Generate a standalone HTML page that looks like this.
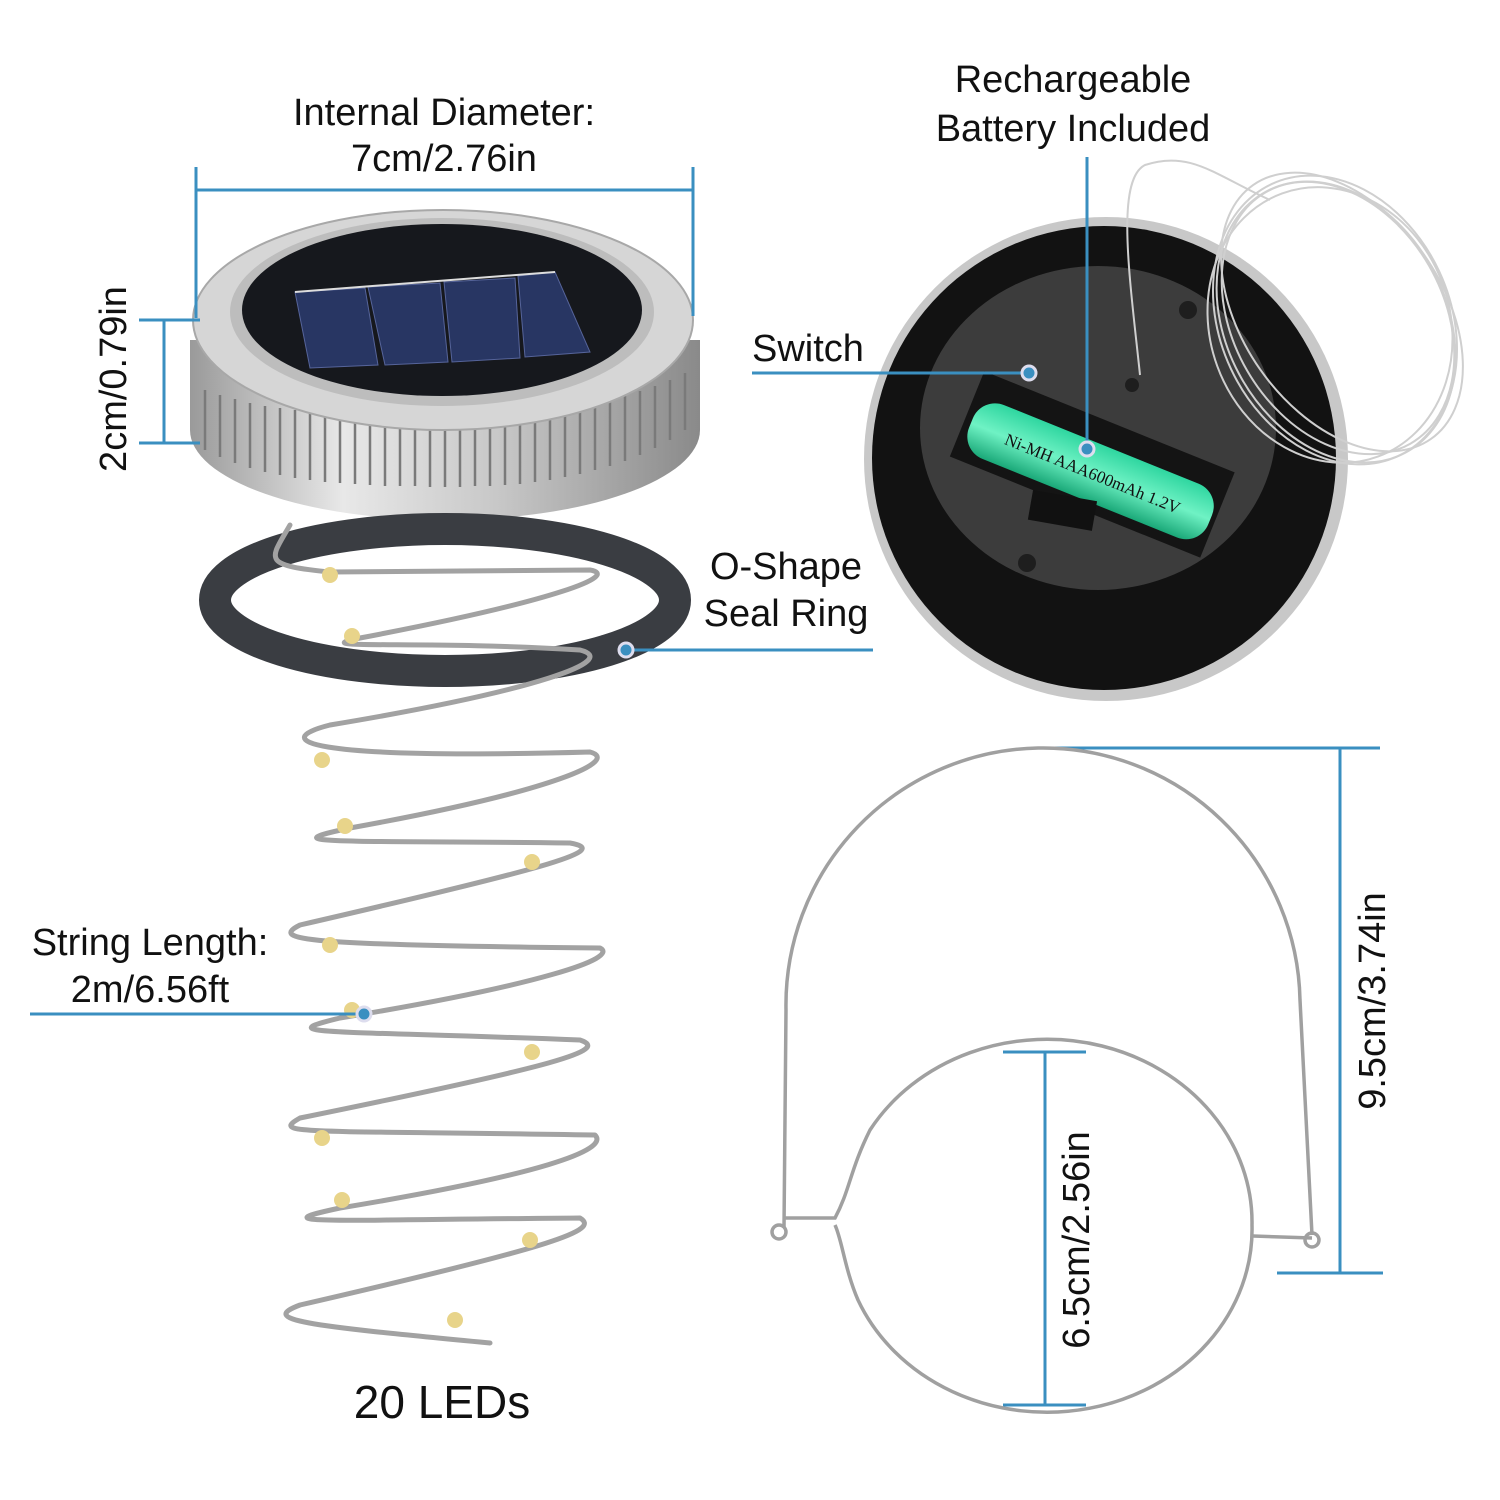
<!DOCTYPE html>
<html><head><meta charset="utf-8"><style>
html,body{margin:0;padding:0;background:#fff}
svg{display:block}
text{font-family:"Liberation Sans",sans-serif;fill:#111}
</style></head><body>
<svg width="1500" height="1500" viewBox="0 0 1500 1500" xmlns="http://www.w3.org/2000/svg">
<defs>
<linearGradient id="metal" x1="0" x2="1" y1="0" y2="0">
<stop offset="0" stop-color="#9a9a9a"/><stop offset="0.3" stop-color="#e8e8e8"/><stop offset="0.6" stop-color="#c8c8c8"/><stop offset="1" stop-color="#8a8a8a"/>
</linearGradient>
<linearGradient id="bat" x1="0" x2="0" y1="0" y2="1">
<stop offset="0" stop-color="#2fd6a0"/><stop offset="0.5" stop-color="#6ff2c4"/><stop offset="1" stop-color="#1aa878"/>
</linearGradient>
</defs>
<!-- Texts -->
<g font-size="38">
<text x="444" y="125" text-anchor="middle">Internal Diameter:</text>
<text x="444" y="171" text-anchor="middle">7cm/2.76in</text>
<text x="1073" y="92" text-anchor="middle">Rechargeable</text>
<text x="1073" y="141" text-anchor="middle">Battery Included</text>
<text x="752" y="361">Switch</text>
<text x="786" y="579" text-anchor="middle">O-Shape</text>
<text x="786" y="626" text-anchor="middle">Seal Ring</text>
<text x="150" y="955" text-anchor="middle">String Length:</text>
<text x="150" y="1002" text-anchor="middle">2m/6.56ft</text>
<text transform="translate(126,379) rotate(-90)" text-anchor="middle">2cm/0.79in</text>
<text transform="translate(1385,1001) rotate(-90)" text-anchor="middle">9.5cm/3.74in</text>
<text transform="translate(1089,1240) rotate(-90)" text-anchor="middle">6.5cm/2.56in</text>
</g>
<text x="442" y="1418" font-size="46" text-anchor="middle">20 LEDs</text>

<!-- left lid -->
<path d="M190 340 L190 430 A255 90 0 0 0 700 430 L700 340 Z" fill="url(#metal)"/>
<g stroke="#7a7a7a" stroke-width="2.5">
<path d="M205 390 L205 450 M220 395 L220 457 M235 399 L235 463 M250 403 L250 468 M265 406 L265 472 M280 408 L280 475 M295 410 L295 478 M310 412 L310 480 M325 413 L325 482 M340 414 L340 483 M355 415 L355 484 M370 416 L370 485 M385 416 L385 486 M400 417 L400 486 M415 417 L415 486 M430 417 L430 487 M445 417 L445 487 M460 417 L460 487 M475 417 L475 486 M490 416 L490 486 M505 415 L505 485 M520 414 L520 484 M535 413 L535 482 M550 411 L550 480 M565 409 L565 477 M580 406 L580 474 M595 403 L595 470 M610 400 L610 466 M625 396 L625 461 M640 391 L640 455 M655 386 L655 448 M670 380 L670 440 M685 373 L685 430"/>
</g>
<ellipse cx="443" cy="320" rx="250" ry="110" fill="#d6d6d6" stroke="#a8a8a8" stroke-width="2"/>
<ellipse cx="442" cy="312" rx="212" ry="94" fill="#bdbdbd"/>
<ellipse cx="442" cy="310" rx="200" ry="86" fill="#16181d"/>
<g fill="#283663" stroke="#56649a" stroke-width="1">
<polygon points="295,292 365,288 378,365 310,368"/>
<polygon points="368,287 440,283 448,362 385,365"/>
<polygon points="444,282 515,278 520,358 452,362"/>
<polygon points="518,276 555,272 590,352 525,357"/>
</g>
<line x1="295" y1="292" x2="555" y2="272" stroke="#ddd" stroke-width="2"/>

<!-- seal ring -->
<ellipse cx="445" cy="600" rx="230" ry="71" fill="none" stroke="#3a3d42" stroke-width="32"/>

<!-- spiral wire -->
<g fill="none" stroke="#a2a2a2" stroke-width="5" stroke-linejoin="round" stroke-linecap="round">
<path d="M290 525 C270 560 260 565 330 572 L590 570 C620 575 560 600 360 638 C300 650 420 640 580 650 C620 660 540 690 330 725 C270 740 300 760 590 752 C620 760 560 790 350 828 C270 845 330 840 570 843 C610 850 560 865 300 925 C270 940 300 945 600 948 C620 958 540 985 340 1018 C270 1035 320 1030 580 1040 C610 1050 560 1065 300 1118 C270 1135 300 1130 595 1135 C610 1150 540 1175 340 1208 C260 1225 320 1220 580 1218 C600 1230 560 1245 300 1305 C260 1320 300 1325 490 1343"/>
</g>
<g fill="#e8d48a">
<circle cx="330" cy="575" r="8"/><circle cx="352" cy="636" r="8"/><circle cx="322" cy="760" r="8"/><circle cx="345" cy="826" r="8"/><circle cx="532" cy="862" r="8"/><circle cx="330" cy="945" r="8"/><circle cx="352" cy="1010" r="8"/><circle cx="532" cy="1052" r="8"/><circle cx="322" cy="1138" r="8"/><circle cx="342" cy="1200" r="8"/><circle cx="530" cy="1240" r="8"/><circle cx="455" cy="1320" r="8"/>
</g>

<!-- right lid -->
<circle cx="1106" cy="459" r="242" fill="#c8c8c8"/>
<circle cx="1104" cy="458" r="232" fill="#121212"/>
<ellipse cx="1098" cy="428" rx="178" ry="162" fill="#3c3c3c"/>
<g transform="rotate(22 1090 470)">
<rect x="955" y="418" width="270" height="92" fill="#141414"/>
<rect x="962" y="442" width="258" height="58" rx="24" fill="url(#bat)"/>
<text x="1000" y="478" font-size="17" style="font-family:'Liberation Serif',serif">Ni-MH AAA600mAh 1.2V</text>
</g>
<rect x="1030" y="495" width="65" height="30" fill="#111" transform="rotate(10 1060 510)"/>
<circle cx="1188" cy="310" r="9" fill="#1e1e1e"/>
<circle cx="1027" cy="563" r="9" fill="#1e1e1e"/>
<circle cx="1132" cy="385" r="7" fill="#1e1e1e"/>
<!-- wire coil -->
<g fill="none" stroke="#cfcfcf" stroke-width="2">
<ellipse cx="1335" cy="320" rx="115" ry="150" transform="rotate(-25 1335 320)"/>
<ellipse cx="1338" cy="318" rx="105" ry="145" transform="rotate(-30 1338 318)"/>
<ellipse cx="1330" cy="325" rx="120" ry="140" transform="rotate(-20 1330 325)"/>
<ellipse cx="1342" cy="312" rx="100" ry="155" transform="rotate(-35 1342 312)"/>
<ellipse cx="1336" cy="322" rx="110" ry="148" transform="rotate(-28 1336 322)"/>
<path d="M1140 375 C1130 280 1115 180 1145 165 C1190 150 1215 175 1270 200"/>
</g>

<!-- dimension lines -->
<g stroke="#3a8fc0" stroke-width="3" fill="none">
<line x1="196" y1="190" x2="693" y2="190"/>
<line x1="196" y1="167" x2="196" y2="318"/>
<line x1="693" y1="167" x2="693" y2="316"/>
<line x1="164" y1="320" x2="164" y2="443"/>
<line x1="139" y1="320" x2="200" y2="320"/>
<line x1="139" y1="443" x2="200" y2="443"/>
<line x1="1087" y1="157" x2="1087" y2="449"/>
<line x1="752" y1="373" x2="1029" y2="373"/>
<line x1="626" y1="650" x2="873" y2="650"/>
<line x1="30" y1="1014" x2="362" y2="1014"/>
<line x1="1037" y1="748" x2="1380" y2="748"/>
<line x1="1340" y1="748" x2="1340" y2="1273"/>
<line x1="1277" y1="1273" x2="1383" y2="1273"/>
<line x1="1045" y1="1052" x2="1045" y2="1405"/>
<line x1="1003" y1="1052" x2="1086" y2="1052"/>
<line x1="1003" y1="1405" x2="1086" y2="1405"/>
</g>
<g fill="#3a8fc0" stroke="#dde" stroke-width="3">
<circle cx="626" cy="650" r="7"/><circle cx="1029" cy="373" r="7"/><circle cx="1087" cy="449" r="7"/><circle cx="364" cy="1014" r="7"/>
</g>

<!-- handle -->
<g fill="none" stroke="#a0a0a0" stroke-width="3.5">
<path d="M784 1228 L786 1010 A257 257 0 0 1 1300 1000 L1312 1235"/>
<path d="M783 1218 L835 1218 C850 1190 850 1170 870 1130 A205 183 0 0 1 1252 1225 A205 183 0 0 1 858 1300 C845 1270 842 1240 835 1225"/>
<path d="M1253 1236 L1312 1238"/>
<circle cx="779" cy="1232" r="7"/><circle cx="1312" cy="1240" r="7"/>
</g>
</svg>
</body></html>
